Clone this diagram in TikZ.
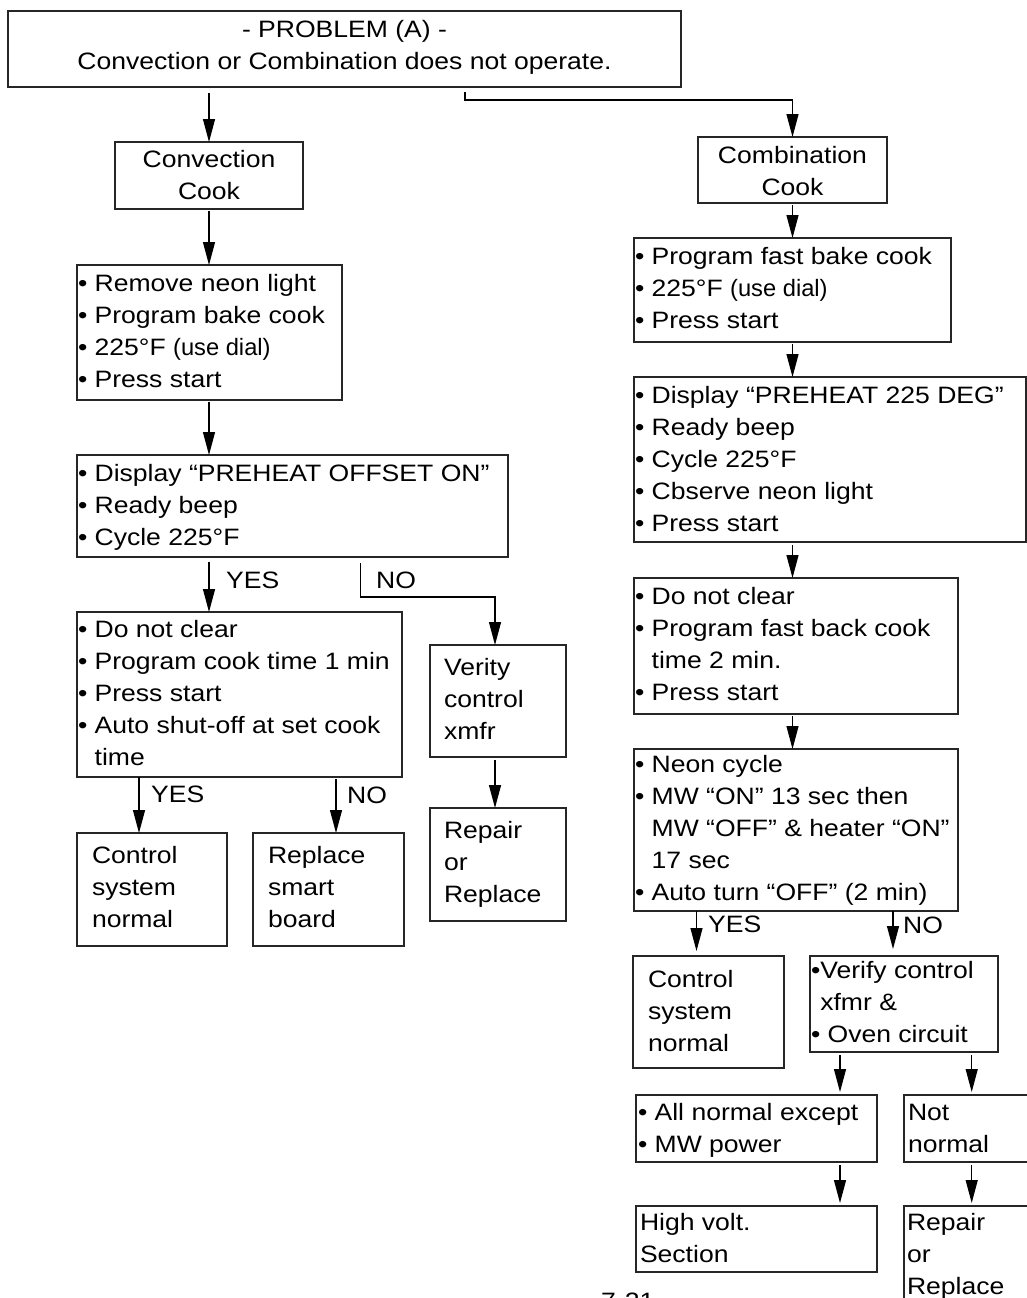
\documentclass[tikz,border=0pt]{standalone}
\usepackage{fontspec}
\setmainfont{Liberation Sans}[FakeStretch=1.12]
\newfontfamily\narrowf{Liberation Sans}
\usetikzlibrary{arrows.meta}
\newdimen\bxw \newdimen\bxo
\newcommand\boxtext[5]{\bxw=#1\relax\bxo=#3\relax
  \vtop to #2{\offinterlineskip\vskip\dimexpr#4-22pt\relax #5\vfil}}
\newcommand\mytl[1]{\hbox to \bxw{\hskip\bxo\vrule height 22pt depth 10pt width 0pt\relax #1\hfil}}
\newcommand\myctl[1]{\hbox to \bxw{\hfil\vrule height 22pt depth 10pt width 0pt\relax #1\hfil}}
\tikzset{
  every node/.style={font=\fontsize{23.7pt}{32pt}\selectfont},
  box/.style={draw=black!85, line width=1.2pt, inner sep=0pt, outer sep=0pt, anchor=north west},
  conn/.style={draw=black, line width=1.2pt},
  arr/.style={conn, -{Triangle[length=23pt,width=12pt]}},
  lbl/.style={inner sep=0pt, anchor=base west}
}
\begin{document}
\begin{tikzpicture}[x=1pt,y=-1pt]
\clip (0,0) rectangle (1027,1298);
\fill[white] (0,0) rectangle (1027,1298);
% left column
\node[box] (top) at (8,11) {\boxtext{673pt}{76pt}{0pt}{27pt}{\myctl{- PROBLEM (A) -}\myctl{Convection or Combination does not operate.}}};
\node[box] (cc) at (115,142) {\boxtext{188pt}{67pt}{0pt}{25pt}{\myctl{Convection}\myctl{Cook}}};
\node[box] (cb) at (698,137) {\boxtext{189pt}{66pt}{0pt}{26pt}{\myctl{Combination}\myctl{Cook}}};
\node[box] (L2) at (77,265) {\boxtext{265pt}{135pt}{1pt}{26pt}{\mytl{• Remove neon light}\mytl{• Program bake cook}\mytl{• 225°F {\narrowf(use dial)}}\mytl{• Press start}}};
\node[box] (L3) at (77,455) {\boxtext{431pt}{102pt}{1pt}{26pt}{\mytl{• Display “PREHEAT OFFSET ON”}\mytl{• Ready beep}\mytl{• Cycle 225°F}}};
\node[box] (L4) at (77,612) {\boxtext{325pt}{165pt}{1pt}{25pt}{\mytl{• Do not clear}\mytl{• Program cook time 1 min}\mytl{• Press start}\mytl{• Auto shut-off at set cook}\mytl{\phantom{• }time}}};
\node[box] (vf) at (430,645) {\boxtext{136pt}{112pt}{14pt}{30pt}{\mytl{Verity}\mytl{control}\mytl{xmfr}}};
\node[box] (rp) at (430,808) {\boxtext{136pt}{113pt}{14pt}{30pt}{\mytl{Repair}\mytl{or}\mytl{Replace}}};
\node[box] (cs) at (77,833) {\boxtext{150pt}{113pt}{15pt}{30pt}{\mytl{Control}\mytl{system}\mytl{normal}}};
\node[box] (rs) at (253,833) {\boxtext{151pt}{113pt}{15pt}{30pt}{\mytl{Replace}\mytl{smart}\mytl{board}}};
% right column
\node[box] (R1) at (634,238) {\boxtext{317pt}{104pt}{1pt}{26pt}{\mytl{• Program fast bake cook}\mytl{• 225°F {\narrowf(use dial)}}\mytl{• Press start}}};
\node[box] (R2) at (634,377) {\boxtext{392pt}{165pt}{1pt}{26pt}{\mytl{• Display “PREHEAT 225 DEG”}\mytl{• Ready beep}\mytl{• Cycle 225°F}\mytl{• Cbserve neon light}\mytl{• Press start}}};
\node[box] (R3) at (634,578) {\boxtext{324pt}{136pt}{1pt}{26pt}{\mytl{• Do not clear}\mytl{• Program fast back cook}\mytl{\phantom{• }time 2 min.}\mytl{• Press start}}};
\node[box] (R4) at (634,749) {\boxtext{324pt}{162pt}{1pt}{23.5pt}{\mytl{• Neon cycle}\mytl{• MW “ON” 13 sec then}\mytl{\phantom{• }MW “OFF” \& heater “ON”}\mytl{\phantom{• }17 sec}\mytl{• Auto turn “OFF” (2 min)}}};
\node[box] (cs2) at (633,956) {\boxtext{151pt}{112pt}{15pt}{31pt}{\mytl{Control}\mytl{system}\mytl{normal}}};
\node[box] (vc) at (810,956) {\boxtext{188pt}{96pt}{1pt}{22pt}{\mytl{•Verify control}\mytl{\phantom{•}xfmr \&}\mytl{• Oven circuit}}};
\node[box] (an) at (636,1095) {\boxtext{241pt}{67pt}{2pt}{25pt}{\mytl{• All normal except}\mytl{• MW power}}};
\node[box] (nn) at (904,1095) {\boxtext{140pt}{67pt}{4pt}{25pt}{\mytl{Not}\mytl{normal}}};
\node[box] (hv) at (636,1206) {\boxtext{241pt}{66pt}{4pt}{24pt}{\mytl{High volt.}\mytl{Section}}};
\node[box] (rr) at (904,1206) {\boxtext{140pt}{120pt}{3pt}{24pt}{\mytl{Repair}\mytl{or}\mytl{Replace}}};
\node[lbl] (pg) at (601,1309) {7-21};
% labels
\node[lbl] (yes1) at (226,588) {YES};
\node[lbl] (no1) at (376,588) {NO};
\node[lbl] (yes2) at (151,802) {YES};
\node[lbl] (no2) at (347,803) {NO};
\node[lbl] (yes3) at (708,932) {YES};
\node[lbl] (no3) at (903,933) {NO};
% connectors left
\draw[arr, shorten <=6pt] (top.south -| cc.north) -- (cc.north);
\draw[arr] ([xshift=120.5pt]top.south) ++(0,5) -- ++(0,8) -| (cb.north);
\draw[arr, shorten <=2pt] (cc.south) -- (cc.south |- L2.north);
\draw[arr, shorten <=2pt] (cc.south |- L2.south) -- (cc.south |- L3.north);
\draw[arr, shorten <=5pt] (cc.south |- L3.south) -- (cc.south |- L4.north);
\draw[arr] ([xshift=68pt]L3.south) ++(0,6) -- ++(0,34) -| ([xshift=-3pt]vf.north);
\draw[arr] ([xshift=-13pt]cs.north |- L4.south) -- ([xshift=-13pt]cs.north);
\draw[arr, shorten <=2pt] ([xshift=7.5pt]rs.north |- L4.south) -- ([xshift=7.5pt]rs.north);
\draw[arr, shorten <=3pt] ([xshift=-3pt]vf.south) -- ([xshift=-3pt]rp.north);
% connectors right
\draw[arr, shorten <=2pt] (cb.south) -- (cb.south |- R1.north);
\draw[arr, shorten <=2pt] (cb.south |- R1.south) -- (cb.south |- R2.north);
\draw[arr, shorten <=3pt] (cb.south |- R2.south) -- (cb.south |- R3.north);
\draw[arr, shorten <=2pt] (cb.south |- R3.south) -- (cb.south |- R4.north);
\draw[arr, shorten >=5pt] ([xshift=-12pt]cs2.north |- R4.south) -- ([xshift=-12pt]cs2.north);
\draw[arr, shorten >=7pt] ([xshift=-11pt]vc.north |- R4.south) -- ([xshift=-11pt]vc.north);
\draw[arr, shorten <=3pt, shorten >=3pt] ([xshift=-64pt]vc.south) -- ([xshift=-64pt]vc.south |- an.north);
\draw[arr, shorten <=3pt, shorten >=3pt] ([xshift=67.7pt]vc.south) -- ([xshift=67.7pt]vc.south |- nn.north);
\draw[arr, shorten <=3pt, shorten >=3pt] ([xshift=-64pt]vc.south |- an.south) -- ([xshift=-64pt]vc.south |- hv.north);
\draw[arr, shorten <=3pt, shorten >=3pt] ([xshift=67.7pt]vc.south |- nn.south) -- ([xshift=67.7pt]vc.south |- rr.north);
\end{tikzpicture}
\end{document}
